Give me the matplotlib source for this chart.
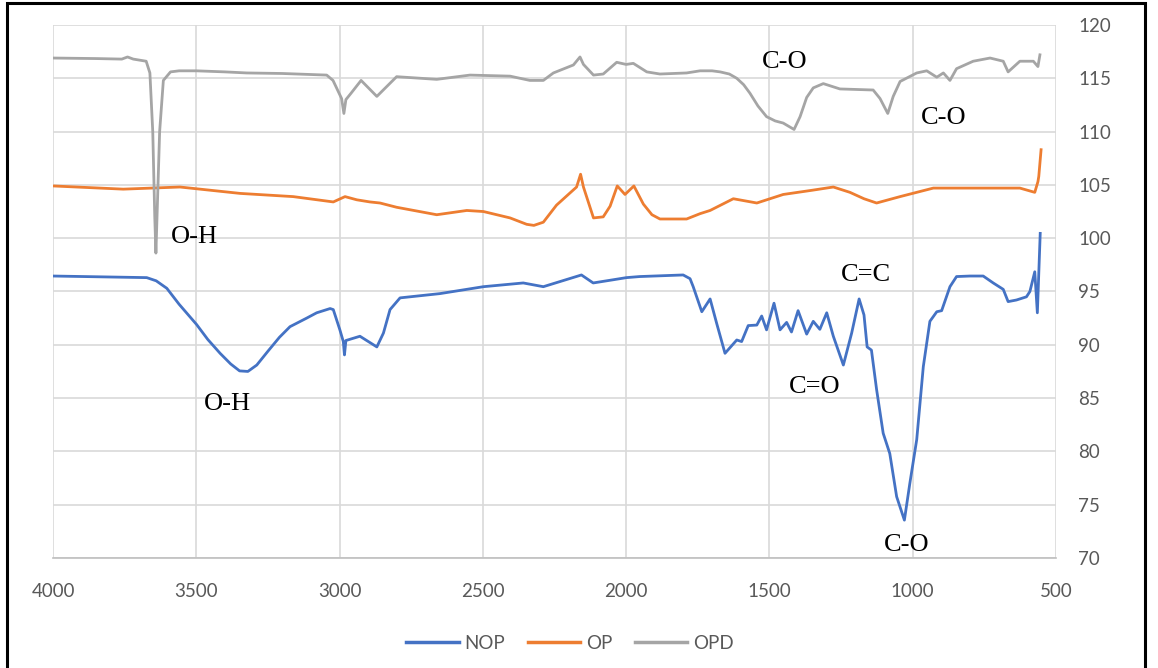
import matplotlib
matplotlib.use("Agg")
import matplotlib.pyplot as plt
from matplotlib.patches import Rectangle

# FTIR spectra: wavenumber (cm-1) vs transmittance (offset per sample)
nop_wn = [4000, 3673, 3640, 3603, 3560, 3499, 3460, 3417, 3380, 3349, 3320, 3289,
          3250, 3210, 3173, 3115, 3080, 3033, 3022, 2999,
          2987, 2983, 2978, 2929, 2870, 2847, 2824, 2789, 2650, 2498, 2359, 2289,
          2156, 2115, 2045, 1999, 1953, 1801, 1777, 1766, 1736, 1707, 1684, 1655,
          1614, 1597, 1574, 1544, 1527, 1510, 1484, 1463, 1440, 1423, 1400, 1370,
          1347, 1324, 1300, 1277, 1242, 1213, 1187, 1170, 1159, 1144, 1126, 1103,
          1080, 1056, 1029, 1010, 986, 963, 940, 916, 899, 870, 847, 800, 754, 719,
          684, 667, 638, 603, 591, 574, 565, 555]
nop_t = [96.45, 96.3, 96.0, 95.3, 93.8, 91.9, 90.5, 89.2, 88.2, 87.55, 87.5, 88.1,
         89.4, 90.7, 91.7, 92.5, 93.0, 93.4, 93.3, 91.4,
         90.3, 89.05, 90.4, 90.8, 89.8, 91.1, 93.3, 94.4, 94.8, 95.45, 95.8, 95.45,
         96.55, 95.8, 96.1, 96.3, 96.4, 96.55, 96.2, 95.45, 93.1, 94.3, 92.0, 89.2,
         90.45, 90.3, 91.8, 91.85, 92.7, 91.4, 93.9, 91.4, 92.1, 91.2, 93.2, 91.0,
         92.2, 91.45, 93.0, 90.8, 88.1, 91.1, 94.3, 92.8, 89.8, 89.5, 85.8, 81.7,
         79.8, 75.75, 73.55, 77.0, 81.1, 87.95, 92.2, 93.1, 93.2, 95.45, 96.4, 96.45, 96.45, 95.8,
         95.2, 94.05, 94.2, 94.5, 95.0, 96.85, 93.0, 100.45]

op_wn = [4000, 3755, 3557, 3347, 3162, 3022, 2981, 2940, 2894, 2859, 2801, 2661,
         2556, 2498, 2405, 2347, 2322, 2289, 2243, 2173, 2159, 2149, 2114, 2080,
         2056, 2031, 2004, 1973, 1940, 1910, 1882, 1789, 1742, 1707, 1626, 1544, 1452,
         1350, 1277, 1219, 1170, 1126, 1044, 928, 812, 626, 574, 563, 560, 552]
op_t = [104.9, 104.6, 104.8, 104.2, 103.9, 103.4, 103.9, 103.6, 103.4, 103.3, 102.9, 102.2,
        102.6, 102.5, 101.9, 101.3, 101.2, 101.5, 103.1, 104.8, 106.0, 104.8, 101.9, 102.0,
        103.0, 104.9, 104.1, 104.9, 103.2, 102.2, 101.8, 101.8, 102.3, 102.6, 103.7, 103.3, 104.1,
        104.5, 104.8, 104.3, 103.7, 103.3, 103.9, 104.7, 104.7, 104.7, 104.3, 105.3, 105.8, 108.3]

opd_wn = [4000, 3850, 3760, 3740, 3720, 3675, 3662, 3652, 3645, 3641, 3636, 3628,
          3615, 3590, 3560, 3500, 3400, 3324, 3200, 3045, 3023, 2993, 2985, 2978,
          2960, 2925, 2870, 2801, 2661, 2545, 2405, 2336, 2289, 2254, 2184, 2161,
          2149, 2114, 2080, 2033, 2000, 1975, 1928, 1882, 1789, 1742, 1700, 1672,
          1640, 1614, 1590, 1568, 1540, 1510, 1480, 1452, 1414, 1393, 1370, 1347, 1312,
          1254, 1138, 1114, 1087, 1068, 1044, 986, 951, 916, 893, 870, 847, 789, 730,
          684, 667, 626, 579, 563, 556]
opd_t = [116.9, 116.85, 116.8, 117.0, 116.8, 116.6, 115.5, 110.0, 102.0, 98.6, 103.0, 110.0,
         114.8, 115.6, 115.7, 115.7, 115.6, 115.5, 115.45, 115.3, 114.8, 113.1, 111.7, 113.0,
         113.6, 114.8, 113.3, 115.15, 114.9, 115.3, 115.2, 114.8, 114.8, 115.5, 116.25, 117.0,
         116.3, 115.3, 115.4, 116.5, 116.3, 116.4, 115.6, 115.4, 115.5, 115.7, 115.7, 115.6,
         115.4, 115.0, 114.4, 113.6, 112.4, 111.4, 111.0, 110.8, 110.2, 111.4, 113.2, 114.1, 114.5,
         114.0, 113.9, 113.1, 111.7, 113.3, 114.7, 115.5, 115.7, 115.1, 115.5, 114.8, 115.9, 116.6, 116.9,
         116.6, 115.6, 116.6, 116.6, 116.1, 117.2]

# band assignments: (label, wavenumber, transmittance)
band_labels = ["O-H", "O-H", "C-O", "C-O", "C=C", "C=O", "C-O"]
band_x = [3505, 3393, 1446, 893, 1163, 1343, 1022]
band_y = [100.1, 84.45, 116.5, 111.3, 96.55, 86.0, 71.2]

fig = plt.figure(figsize=(11.58, 6.68), dpi=100)
ax = fig.add_axes([0.0458, 0.1647, 0.8661, 0.7979])

ax.plot(nop_wn, nop_t, color="#4472C4", lw=2.0, label="NOP")
ax.plot(op_wn, op_t, color="#ED7D31", lw=2.0, label="OP")
ax.plot(opd_wn, opd_t, color="#A5A5A5", lw=2.0, label="OPD")

for lab, x, y in zip(band_labels, band_x, band_y):
    ax.text(x, y, lab, ha="center", va="center", fontsize=19,
            family="Liberation Serif", color="black")

ax.set_xlim(4000, 500)
ax.set_ylim(70, 120)
ax.set_xticks(range(4000, 499, -500))
ax.set_yticks(range(70, 121, 5))
ax.yaxis.tick_right()
ax.grid(True, color="#D9D9D9", lw=1.2)
ax.set_axisbelow(True)
for side in ["top", "left", "right"]:
    ax.spines[side].set_visible(False)
ax.spines["bottom"].set_color("#BFBFBF")
ax.spines["bottom"].set_linewidth(1.2)
ax.tick_params(axis="x", length=0, pad=18, labelsize=13.5, labelcolor="#595959")
ax.tick_params(axis="y", length=0, pad=16, labelsize=13.5, labelcolor="#595959")
for t in ax.get_xticklabels() + ax.get_yticklabels():
    t.set_family("Lato")

leg = fig.legend(loc="center", bbox_to_anchor=(0.492, 0.0374), ncol=3, frameon=False,
                 handlelength=2.8, handletextpad=0.3, columnspacing=1.2,
                 prop={"family": "Lato", "size": 13.5})
for t in leg.get_texts():
    t.set_color("#595959")
for h in leg.get_lines():
    h.set_linewidth(2.5)

# outer frame
fig.add_artist(Rectangle((0.006, -0.02), 0.983, 1.015, transform=fig.transFigure,
                         fill=False, edgecolor="black", lw=2.2))

fig.savefig("out.png", dpi=100)
